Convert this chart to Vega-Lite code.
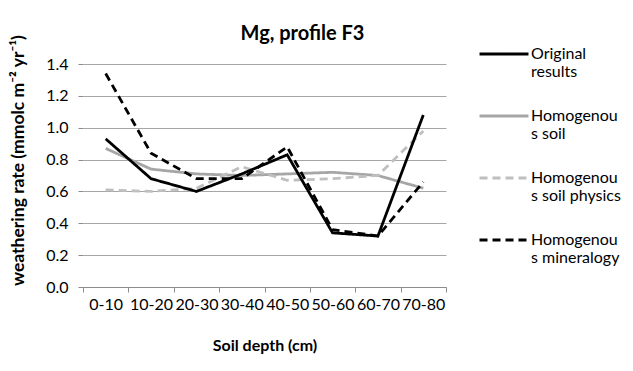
{
  "$schema": "https://vega.github.io/schema/vega-lite/v6.json",
  "autosize": {"type": "none"},
  "width": 363,
  "height": 223,
  "padding": {"left": 83, "top": 64, "right": 187, "bottom": 84},
  "background": "white",
  "config": {"font": "Lato", "view": {"stroke": null}},
  "title": {"text": "Mg, profile F3", "fontSize": 20, "fontWeight": "bold", "font": "Lato", "color": "#000000", "anchor": "middle", "dx": 38, "offset": -16},
  "data": {"values": [
    {"depth": "0-10", "series": "Homogenous soil", "value": 0.87},
    {"depth": "10-20", "series": "Homogenous soil", "value": 0.74},
    {"depth": "20-30", "series": "Homogenous soil", "value": 0.71},
    {"depth": "30-40", "series": "Homogenous soil", "value": 0.70},
    {"depth": "40-50", "series": "Homogenous soil", "value": 0.71},
    {"depth": "50-60", "series": "Homogenous soil", "value": 0.72},
    {"depth": "60-70", "series": "Homogenous soil", "value": 0.70},
    {"depth": "70-80", "series": "Homogenous soil", "value": 0.62},
    {"depth": "0-10", "series": "Homogenous soil physics", "value": 0.61},
    {"depth": "10-20", "series": "Homogenous soil physics", "value": 0.60},
    {"depth": "20-30", "series": "Homogenous soil physics", "value": 0.62},
    {"depth": "30-40", "series": "Homogenous soil physics", "value": 0.755},
    {"depth": "40-50", "series": "Homogenous soil physics", "value": 0.67},
    {"depth": "50-60", "series": "Homogenous soil physics", "value": 0.68},
    {"depth": "60-70", "series": "Homogenous soil physics", "value": 0.70},
    {"depth": "70-80", "series": "Homogenous soil physics", "value": 0.98},
    {"depth": "0-10", "series": "Original results", "value": 0.93},
    {"depth": "10-20", "series": "Original results", "value": 0.68},
    {"depth": "20-30", "series": "Original results", "value": 0.60},
    {"depth": "30-40", "series": "Original results", "value": 0.71},
    {"depth": "40-50", "series": "Original results", "value": 0.83},
    {"depth": "50-60", "series": "Original results", "value": 0.34},
    {"depth": "60-70", "series": "Original results", "value": 0.32},
    {"depth": "70-80", "series": "Original results", "value": 1.08},
    {"depth": "0-10", "series": "Homogenous mineralogy", "value": 1.34},
    {"depth": "10-20", "series": "Homogenous mineralogy", "value": 0.84},
    {"depth": "20-30", "series": "Homogenous mineralogy", "value": 0.68},
    {"depth": "30-40", "series": "Homogenous mineralogy", "value": 0.68},
    {"depth": "40-50", "series": "Homogenous mineralogy", "value": 0.88},
    {"depth": "50-60", "series": "Homogenous mineralogy", "value": 0.36},
    {"depth": "60-70", "series": "Homogenous mineralogy", "value": 0.32},
    {"depth": "70-80", "series": "Homogenous mineralogy", "value": 0.66}
  ]},
  "mark": {"type": "line", "strokeWidth": 2.8},
  "encoding": {
    "x": {
      "field": "depth", "type": "ordinal", "bandPosition": 0.5,
      "scale": {"type": "band", "paddingInner": 0, "paddingOuter": 0},
      "axis": {
        "title": "Soil depth (cm)", "titleFontSize": 16, "titleFontWeight": "bold", "titleColor": "#000000", "titlePadding": 25,
        "labelAngle": 0, "labelFontSize": 16, "labelColor": "#000000", "labelPadding": 4,
        "tickBand": "extent", "tickSize": 5, "tickColor": "#8C8C8C", "domainColor": "#8C8C8C", "grid": false
      }
    },
    "y": {
      "field": "value", "type": "quantitative",
      "scale": {"domain": [0, 1.4], "nice": false},
      "axis": {
        "title": "weathering rate (mmolc m⁻² yr⁻¹)", "titleFontSize": 17.5, "titleFontWeight": "bold", "titleColor": "#000000", "titlePadding": 18,
        "titleAnchor": "middle", "titleY": 96,
        "values": [0, 0.2, 0.4, 0.6, 0.8, 1.0, 1.2, 1.4], "format": ".1f",
        "labelFontSize": 16, "labelColor": "#000000", "labelPadding": 10,
        "tickSize": 5, "tickColor": "#8C8C8C", "domain": false,
        "grid": true, "gridColor": "#A6A6A6", "gridWidth": 1
      }
    },
    "color": {
      "field": "series", "type": "nominal",
      "scale": {"domain": ["Original results", "Homogenous soil", "Homogenous soil physics", "Homogenous mineralogy"], "range": ["#000000", "#A6A6A6", "#BFBFBF", "#000000"]},
      "legend": {
        "title": null, "orient": "none", "legendX": 395, "legendY": -36,
        "symbolType": "stroke", "symbolSize": 2400, "symbolStrokeWidth": 2.8,
        "labelFontSize": 16, "labelColor": "#000000", "labelBaseline": "middle", "labelOffset": 1, "labelLineHeight": 17,
        "rowPadding": 10, "labelLimit": 200,
        "labelExpr": "datum.label == 'Original results' ? ['Original', 'results'] : ['Homogenou', 's' + substring(datum.label, 10)]"
      }
    },
    "strokeDash": {
      "field": "series", "type": "nominal",
      "scale": {"domain": ["Original results", "Homogenous soil", "Homogenous soil physics", "Homogenous mineralogy"], "range": [[1, 0], [1, 0], [8, 5], [8, 5]]},
      "legend": null
    }
  }
}
